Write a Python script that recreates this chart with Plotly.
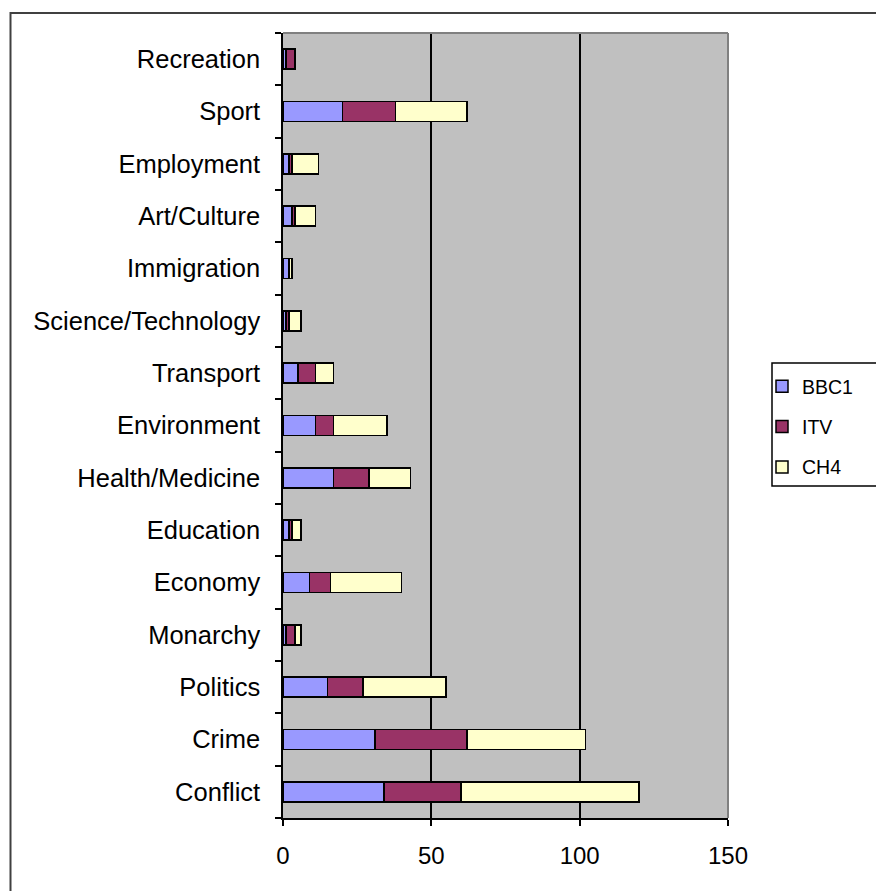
import plotly.graph_objects as go

# News story counts by topic and channel (bottom to top on the chart)
topics = [
    "Conflict", "Crime", "Politics", "Monarchy", "Economy", "Education",
    "Health/Medicine", "Environment", "Transport", "Science/Technology",
    "Immigration", "Art/Culture", "Employment", "Sport", "Recreation",
]
bbc1 = [34, 31, 15, 1, 9, 2, 17, 11, 5, 1, 2, 3, 2, 20, 1]
itv = [26, 31, 12, 3, 7, 1, 12, 6, 6, 1, 0, 1, 1, 18, 3]
ch4 = [60, 40, 28, 2, 24, 3, 14, 18, 6, 4, 1, 7, 9, 24, 0]

x_ticks = [0, 50, 100, 150]

series = [
    ("BBC1", bbc1, "#9999FF"),
    ("ITV", itv, "#993366"),
    ("CH4", ch4, "#FFFFCC"),
]

W, H = 876, 891
ML, MR, MT, MB = 283, 148, 33, 73
PW, PH = W - ML - MR, H - MT - MB


def px_x(p):
    return (p - ML) / PW


def px_y(p):
    return (H - MB - p) / PH


fig = go.Figure()
for name, vals, color in series:
    fig.add_trace(go.Bar(
        y=topics, x=vals, name=name, orientation="h",
        legendgroup=name,
        marker=dict(color=color, line=dict(color="black", width=1.5)),
    ))

font = "Liberation Sans, Arial, sans-serif"

fig.update_layout(
    template="none",
    width=W, height=H, autosize=False,
    margin=dict(l=ML, r=MR, t=MT, b=MB, pad=0),
    barmode="stack", bargap=0.62,
    paper_bgcolor="white", plot_bgcolor="#C0C0C0",
    font=dict(family=font, color="black"),
    xaxis=dict(
        range=[0, 150], tickvals=x_ticks, ticktext=[str(v) for v in x_ticks],
        showgrid=True, gridcolor="black", gridwidth=1.5, zeroline=False,
        showline=True, linecolor="black", linewidth=1.5,
        ticks="outside", ticklen=6, tickcolor="black", tickwidth=1.5,
        tickfont=dict(size=24, family=font), ticklabelstandoff=9,
        automargin=False, fixedrange=True,
    ),
    yaxis=dict(
        type="category", categoryorder="array", categoryarray=topics,
        showgrid=False, zeroline=False,
        showline=True, linecolor="black", linewidth=1.5,
        ticks="outside", ticklen=6, tickcolor="black", tickwidth=1.5,
        tickson="boundaries",
        tickfont=dict(size=25.5, family=font), ticklabelstandoff=16,
        automargin=False, fixedrange=True,
    ),
    showlegend=True,
    legend=dict(
        x=px_x(762), y=px_y(367), xanchor="left", yanchor="top",
        traceorder="grouped", tracegroupgap=12,
        bgcolor="rgba(0,0,0,0)", borderwidth=0,
        font=dict(size=19.5, family=font),
    ),
    shapes=[
        # chart frame
        dict(type="rect", xref="paper", yref="paper",
             x0=px_x(10.5), x1=px_x(W + 20), y0=px_y(H + 20), y1=px_y(13),
             line=dict(color="#404040", width=2), fillcolor="rgba(0,0,0,0)",
             layer="above"),
        # plot area border (top and right)
        dict(type="line", xref="paper", yref="paper",
             x0=0, x1=1, y0=1, y1=1, line=dict(color="#808080", width=2)),
        dict(type="line", xref="paper", yref="paper",
             x0=1, x1=1, y0=0, y1=1, line=dict(color="#808080", width=2)),
        # legend box
        dict(type="rect", xref="paper", yref="paper",
             x0=px_x(772), x1=px_x(W + 20), y0=px_y(486), y1=px_y(363),
             line=dict(color="black", width=1.5), fillcolor="white",
             layer="below"),
    ],
)

fig.write_html("out.html")
